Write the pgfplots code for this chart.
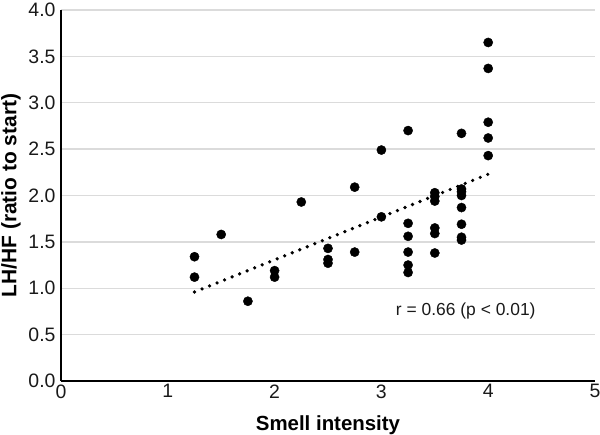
\documentclass[border=0pt]{standalone}
\usepackage{fontspec}
\setmainfont{Liberation Sans}
\usepackage{pgfplots}
\pgfplotsset{compat=1.18}

\begin{document}
\begin{tikzpicture}
  \begin{axis}[
    scale only axis,
    width=534bp,
    height=371bp,
    xmin=0, xmax=5,
    ymin=0, ymax=4,
    xtick={0,1,2,3,4,5},
    ytick={0,0.5,...,4.0},
    y tick label style={/pgf/number format/fixed, /pgf/number format/fixed zerofill, /pgf/number format/precision=1},
    /pgf/number format/assume math mode=true,
    ticklabel style={font=\fontsize{19.5}{21}\selectfont, text=black!90},
    yticklabel style={xshift=-2bp},
    major tick length=0pt,
    axis x line*=bottom,
    axis y line*=left,
    axis line style={line width=1.4bp, black},
    ymajorgrids=true,
    grid style={line width=1.4bp, draw=black!14},
    xlabel={\textbf{Smell intensity}},
    xlabel style={font=\fontsize{20.5}{22}\selectfont, at={(axis description cs:0.5,-0.134)}, anchor=base},
    ylabel={\textbf{LH/HF (ratio to start)}},
    ylabel style={font=\fontsize{21}{23}\selectfont, at={(axis description cs:-0.0936,0.5)}, anchor=center},
    clip=false,
  ]

  % measurements
  \addplot[only marks, mark=*, mark size=4.6bp, draw=black, fill=black] coordinates {
    (1.25,1.34) (1.25,1.12)
    (1.50,1.58)
    (1.75,0.86)
    (2.00,1.19) (2.00,1.12)
    (2.25,1.93)
    (2.50,1.43) (2.50,1.31) (2.50,1.27)
    (2.75,2.09) (2.75,1.39)
    (3.00,2.49) (3.00,1.77)
    (3.25,2.70) (3.25,1.70) (3.25,1.56) (3.25,1.39) (3.25,1.25) (3.25,1.17)
    (3.50,2.03) (3.50,1.99) (3.50,1.94) (3.50,1.65) (3.50,1.59) (3.50,1.38)
    (3.75,2.67) (3.75,2.07) (3.75,2.04) (3.75,2.00) (3.75,1.87) (3.75,1.69) (3.75,1.55) (3.75,1.52)
    (4.00,3.65) (4.00,3.37) (4.00,2.79) (4.00,2.62) (4.00,2.43)
  };

  % linear trend
  \addplot[black, line width=3.6bp, line cap=round, dash pattern=on 0bp off 8.1bp] coordinates {
    (1.25,0.96) (4.00,2.23)
  };

  \node[font=\fontsize{17.5}{19}\selectfont, text=black!90] at (axis cs:3.79,0.75) {r = 0.66 (p < 0.01)};
  \end{axis}
  \pgfresetboundingbox
  \path (-61bp,-54bp) rectangle (539bp,381bp);
\end{tikzpicture}
\end{document}
